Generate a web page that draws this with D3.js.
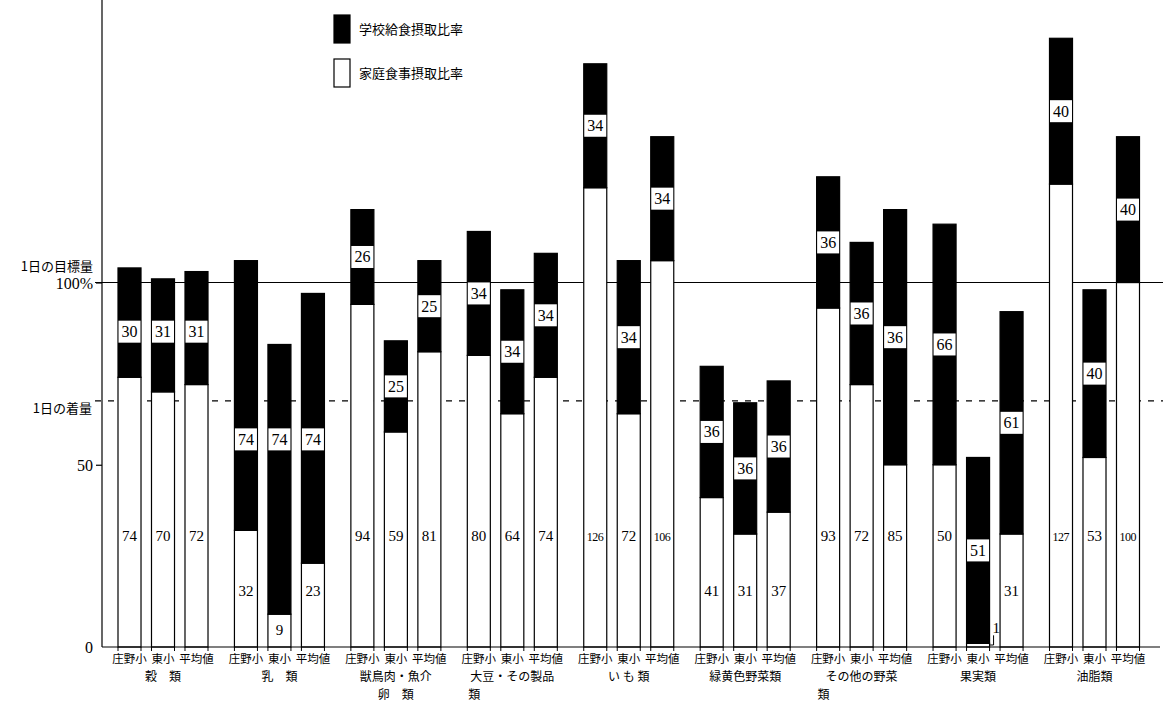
<!DOCTYPE html>
<html><head><meta charset="utf-8">
<script src="https://cdn.jsdelivr.net/npm/d3@7"></script>
<style>
html,body{margin:0;padding:0;background:#fff;}
svg{display:block;}
.jp{font-family:"Noto Sans CJK JP","Noto Sans CJK SC",sans-serif;}
.num{font-family:"Liberation Serif","DejaVu Serif",serif;}
</style></head>
<body>
<svg id="c" width="1163" height="704"></svg>
<script>
// ---- data ----
const groups = ["穀類","乳類","獣鳥肉・魚介卵類","大豆・その製品類","いも類","緑黄色野菜類","その他の野菜類","果実類","油脂類"];
const groupLabelLines = [["穀　類"],["乳　類"],["獣鳥肉・魚介","卵　類"],["大豆・その製品","類"],["い も 類"],["緑黄色野菜類"],["その他の野菜","類"],["果実類"],["油脂類"]];
const schools = ["庄野小","東小","平均値"];
// printed values (家庭食事摂取比率 / 学校給食摂取比率), by group then school
const homeLabel   = [74,70,72, 32,9,23, 94,59,81, 80,64,74, 126,72,106, 41,31,37, 93,72,85, 50,1,31, 127,53,100];
const schoolLabel = [30,31,31, 74,74,74, 26,25,25, 34,34,34, 34,34,34, 36,36,36, 36,36,36, 66,51,61, 40,40,40];
// bar segment heights as drawn in the picture (%)
const homeBar     = [74,70,72, 32,9,23, 94,59,81, 80,64,74, 126,64,106, 41,31,37, 93,72,50, 50,1,31, 127,52,100];
const schoolBar   = [30,31,31, 74,74,74, 26,25,25, 34,34,34, 34,42,34, 36,36,36, 36,39,70, 66,51,61, 40,46,40];
const yTicks = [0,50,100];
const targetLevel = 100;   // 1日の目標量
const dashedLevel = 67.5;  // 1日の着量
const legendItems = ["学校給食摂取比率","家庭食事摂取比率"];
const alignedGroups = ["穀類","乳類"];

// ---- chart ----
const svg = d3.select("#c");
const y = d3.scaleLinear().domain([0,100]).range([647,282.5]);
const xg = d3.scaleBand().domain(groups).range([118,1139.5]).paddingInner(0.227).paddingOuter(0);
const xb = d3.scaleBand().domain(schools).range([0,xg.bandwidth()]).paddingInner(0.313).paddingOuter(0);

const bars = [];
groups.forEach((g,gi)=>schools.forEach((s,si)=>{
  const i = gi*3+si;
  bars.push({g,s,gi,si,hl:homeLabel[i],sl:schoolLabel[i],hb:homeBar[i],sb:schoolBar[i],x:xg(g)+xb(s)});
}));
const bw = xb.bandwidth();

// reference lines
svg.append("line").attr("x1",95).attr("x2",1163).attr("y1",y(targetLevel)).attr("y2",y(targetLevel))
  .attr("stroke","#000").attr("stroke-width",1.2);
svg.append("line").attr("x1",95).attr("x2",1163).attr("y1",y(dashedLevel)).attr("y2",y(dashedLevel))
  .attr("stroke","#000").attr("stroke-width",1.2).attr("stroke-dasharray","6,7");

// bars
const bg = svg.append("g");
bars.forEach(b=>{
  bg.append("rect").attr("x",b.x).attr("width",bw).attr("y",y(b.hb)).attr("height",y(0)-y(b.hb))
    .attr("fill","#fff").attr("stroke","#000").attr("stroke-width",1.2);
  bg.append("rect").attr("x",b.x).attr("width",bw).attr("y",y(b.hb+b.sb)).attr("height",y(b.hb)-y(b.hb+b.sb))
    .attr("fill","#000").attr("stroke","#000").attr("stroke-width",1.2);
  [b.x,b.x+bw].forEach(xx=>bg.append("line").attr("x1",xx).attr("x2",xx).attr("y1",y(0)).attr("y2",y(0)+4).attr("stroke","#000"));
});

const mid = b => (y(b.hb)+y(b.hb+b.sb))/2;
bars.forEach(b=>{
  let cy = mid(b);
  if(alignedGroups.includes(b.g)){
    const gb = bars.filter(d=>d.g===b.g);
    cy = d3.mean(gb,mid)+ (b.g==="乳類"?5:3);
  }
  bg.append("rect").attr("x",b.x+0.5).attr("width",bw-1).attr("y",cy-11).attr("height",22).attr("fill","#fff");
  bg.append("text").attr("class","num").attr("x",b.x+bw/2).attr("y",cy+5.5).attr("text-anchor","middle")
    .attr("font-size",16).text(b.sl);
  let hy, hx=b.x+bw/2, anchor="middle";
  if(b.hl>=45) hy=y(30.5);
  else if(b.hl>=15) hy=y(15.5);
  else if(b.hl>=5) hy=y(4.6);
  else {
    hy=y(5.2); hx=b.x+bw+3; anchor="start";
    bg.append("path").attr("d",`M${b.x+bw},${y(0)-2}H${b.x+bw+4}V${y(3.2)}`).attr("fill","none").attr("stroke","#000");
  }
  bg.append("text").attr("class","num").attr("x",hx).attr("y",hy+5).attr("text-anchor",anchor)
    .attr("font-size",b.hl>=100?12:15).attr("textLength",b.hl>=100?17:null).text(b.hl);
});

// axes
svg.append("line").attr("x1",102).attr("x2",102).attr("y1",0).attr("y2",y(0)).attr("stroke","#000").attr("stroke-width",1.2);
svg.append("line").attr("x1",102).attr("x2",1160).attr("y1",y(0)).attr("y2",y(0)).attr("stroke","#000").attr("stroke-width",1.2);
const ax = svg.append("g").attr("transform","translate(102,0)")
  .call(d3.axisLeft(y).tickValues(yTicks).tickSize(6).tickPadding(3).tickFormat(d=>d===100?"100%":d));
ax.select(".domain").remove();
ax.selectAll(".tick line").attr("stroke","#000").attr("stroke-width",1.2).filter(d=>d===0).remove();
ax.selectAll(".tick text").attr("class","num").attr("font-size",16).attr("fill","#000").attr("dy","0.35em");
svg.append("text").attr("class","jp").attr("x",93).attr("y",y(targetLevel)-12).attr("text-anchor","end")
  .attr("font-size",13).text("1日の目標量");
svg.append("text").attr("class","jp").attr("x",92).attr("y",y(dashedLevel)+12).attr("text-anchor","end")
  .attr("font-size",13).text("1日の着量");

// x labels
bars.forEach(b=>{
  svg.append("text").attr("class","jp").attr("x",b.x+bw/2).attr("y",663).attr("text-anchor","middle")
    .attr("font-size",11.5).text(b.s);
});
groups.forEach((g,gi)=>{
  const lines = groupLabelLines[gi];
  const cx = xg(g)+xg.bandwidth()/2;
  lines.forEach((t,li)=>{
    const single = t.length===1;
    svg.append("text").attr("class","jp")
      .attr("x",single? xg(g)+1 : cx).attr("y",681+li*18)
      .attr("text-anchor",single?"start":"middle").attr("font-size",12).text(t);
  });
});

// legend
const lg = svg.append("g");
legendItems.forEach((t,i)=>{
  lg.append("rect").attr("x",334).attr("y",15+i*44).attr("width",16).attr("height",28)
    .attr("fill",i===0?"#000":"#fff").attr("stroke","#000").attr("stroke-width",1.2);
  lg.append("text").attr("class","jp").attr("x",359).attr("y",34+i*44).attr("font-size",13).text(t);
});
</script>
</body></html>
